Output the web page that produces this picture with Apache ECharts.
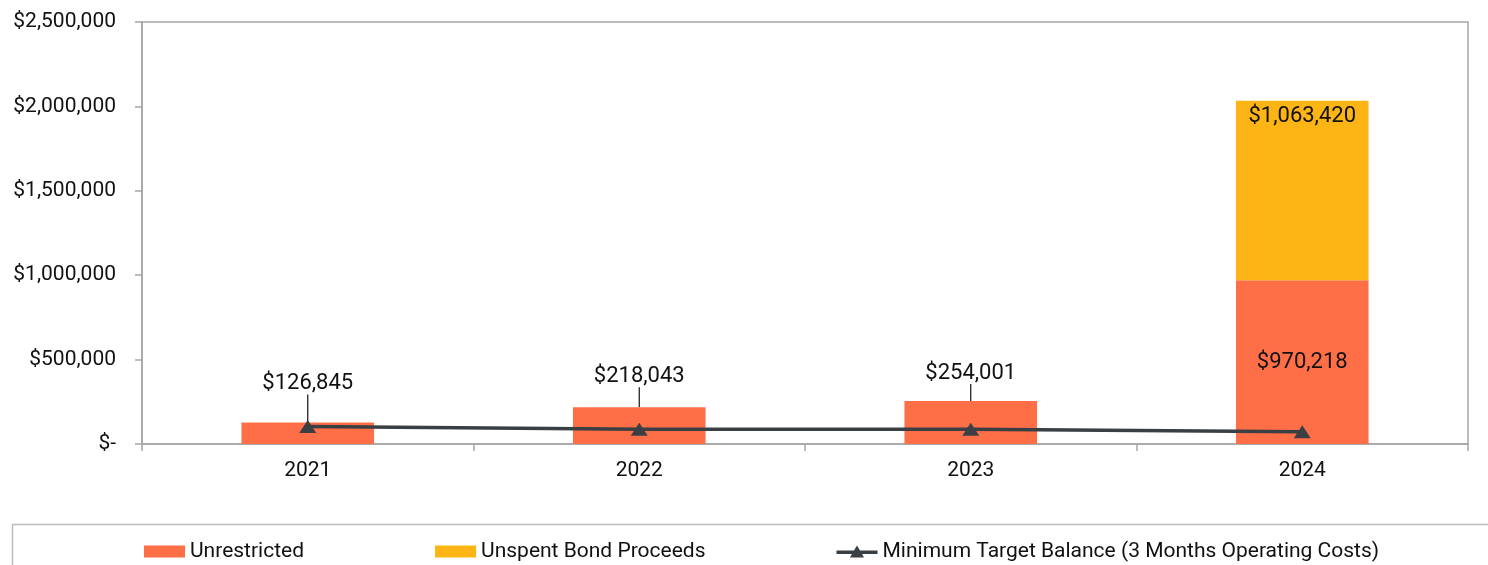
<!DOCTYPE html>
<html>
<head>
    <meta charset="UTF-8">
    <title>Reserve balances</title>
    <script src="https://cdn.jsdelivr.net/npm/echarts@6/dist/echarts.min.js"></script>
    <style>
        body { margin: 0; background: #fff; }
    </style>
</head>
<body>
<div id="chart" style="width:1488px; height:565px;"></div>
<script>
    var years = ['2021', '2022', '2023', '2024'];
    var unrestricted = [126845, 218043, 254001, 970218];
    var bondProceeds = [0, 0, 0, 1063420];
    var minTarget = [103000, 88000, 88000, 73000];
    var yTicks = [0, 500000, 1000000, 1500000, 2000000, 2500000];

    // how far the small-bar labels are lifted above their bars
    var liftLabel = [-23, -15, -12, 0];

    function money(v) {
        if (v === 0) return '$-';
        return '$' + v.toString().replace(/\B(?=(\d{3})+(?!\d))/g, ',');
    }

    var font = 'Roboto';
    var chart = echarts.init(document.getElementById('chart'), null, {renderer: 'canvas'});

    var unrestrictedData = unrestricted.map(function (v, i) {
        var big = v > 500000;
        return {
            value: v,
            label: {
                show: true,
                position: big ? 'inside' : 'top',
                distance: 5
            }
        };
    });

    var bondData = bondProceeds.map(function (v) {
        return {
            value: v === 0 ? null : v,
            label: {show: v !== 0}
        };
    });

    var lineName = 'Minimum Target Balance (3 Months Operating Costs)';
    // line with a triangle on it, for the legend
    var lineIcon = 'path://M0,5 L17.5,5 L20.5,0 L23.5,5 L41,5 L41,8.5 L25.6,8.5 L27.5,12 L13.5,12 L15.4,8.5 L0,8.5 Z';

    chart.setOption({
        animation: false,
        textStyle: {fontFamily: font},
        grid: {
            left: 142, right: 20, top: 22, bottom: 121,
            show: true, borderColor: '#a6a6a6', borderWidth: 1.5
        },
        legend: {
            left: 139,
            top: 536,
            itemWidth: 41,
            itemHeight: 12,
            itemGap: 131,
            itemTextGap: 3,
            textStyle: {fontFamily: font, fontSize: 21, color: '#111'},
            data: [
                {name: 'Unrestricted', icon: 'rect'},
                {name: 'Unspent Bond Proceeds', icon: 'rect'},
                {name: lineName, icon: lineIcon, itemStyle: {color: '#3A3F44'}}
            ]
        },
        graphic: [{
            type: 'rect',
            shape: {x: 12.5, y: 524.5, width: 1490, height: 60},
            style: {fill: 'none', stroke: '#bdbdbd', lineWidth: 1.5},
            silent: true
        }],
        xAxis: {
            type: 'category',
            data: years,
            axisLine: {lineStyle: {color: '#a6a6a6', width: 1.5}},
            axisTick: {show: true, length: 7, lineStyle: {color: '#a6a6a6', width: 1.5}},
            axisLabel: {color: '#111', fontSize: 21, margin: 16, fontFamily: font}
        },
        yAxis: {
            type: 'value',
            min: yTicks[0],
            max: yTicks[yTicks.length - 1],
            interval: yTicks[1] - yTicks[0],
            splitLine: {show: false},
            axisLine: {show: true, lineStyle: {color: '#a6a6a6', width: 1.5}},
            axisTick: {show: true, length: 7, lineStyle: {color: '#a6a6a6', width: 1.5}},
            axisLabel: {color: '#111', fontSize: 21, margin: 26, fontFamily: font, formatter: money}
        },
        series: [
            {
                name: 'Unrestricted',
                type: 'bar',
                stack: 'total',
                barWidth: '40%',
                itemStyle: {color: '#FF6F47'},
                label: {
                    fontFamily: font, fontSize: 22, color: '#111',
                    formatter: function (p) { return money(p.value); }
                },
                labelLine: {show: true, lineStyle: {color: '#111', width: 1.2}},
                labelLayout: function (p) {
                    return {dy: liftLabel[p.dataIndex]};
                },
                data: unrestrictedData
            },
            {
                name: 'Unspent Bond Proceeds',
                type: 'bar',
                stack: 'total',
                barWidth: '40%',
                itemStyle: {color: '#FDB515'},
                label: {
                    position: 'insideTop', distance: 5,
                    fontFamily: font, fontSize: 22, color: '#111',
                    formatter: function (p) { return money(p.value); }
                },
                data: bondData
            },
            {
                name: lineName,
                type: 'line',
                symbol: 'triangle',
                symbolSize: [17, 13],
                itemStyle: {color: '#3A3F44'},
                lineStyle: {color: '#3A3F44', width: 3.5},
                z: 5,
                data: minTarget
            }
        ]
    });
</script>
</body>
</html>
